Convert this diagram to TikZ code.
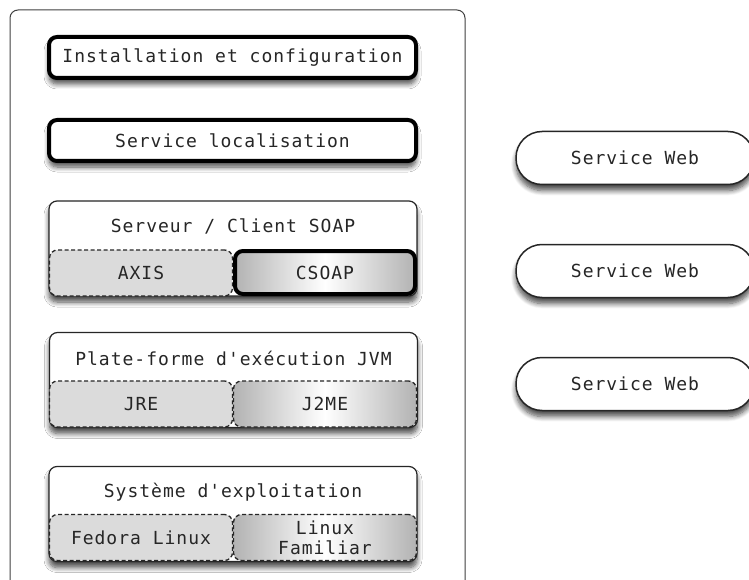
\documentclass[tikz,border=0pt]{standalone}
\usepackage{fontspec}
\setmonofont[LetterSpace=5.5]{DejaVu Sans Mono}
\usetikzlibrary{shadows,shadows.blur,positioning}

\begin{document}
\begin{tikzpicture}[x=1pt,y=-1pt]
                % define styles
\tikzset{txt/.style={font=\fontsize{18}{22}\selectfont\ttfamily, text=black!85},
         softshadow/.style={blur shadow={shadow xshift=0pt,
                       shadow yshift=-6pt,
                       shadow blur steps=8,
                       shadow blur radius=5pt,
                       shadow opacity=70}},
         thickbox/.style={txt,
                       draw=black,
                       line width=4pt,
                       rounded corners=8pt,
                       fill=white,
                       inner sep=0,
                       minimum width=367pt,
                       minimum height=41pt,
                       softshadow,
                       },
         group/.style={draw=black!85,
                       line width=1.2pt,
                       rounded corners=8pt,
                       fill=white,
                       inner sep=0,
                       minimum width=368pt,
                       minimum height=95pt,
                       softshadow,
                       },
         flatpart/.style={txt,
                       draw=black!85,
                       dashed,
                       dash pattern=on 4pt off 2.5pt,
                       line width=1.3pt,
                       rounded corners=8pt,
                       fill=gray!28,
                       inner sep=0,
                       minimum width=183pt,
                       minimum height=46pt,
                       align=center,
                       },
         shadedpart/.style={flatpart,
                       left color=gray!60,
                       right color=gray!60,
                       middle color=white,
                       },
         websvc/.style={txt,
                       draw=black!85,
                       line width=1.5pt,
                       rounded corners=26pt,
                       fill=white,
                       inner sep=0,
                       minimum width=238pt,
                       minimum height=53pt,
                       softshadow,
                       }
}

\useasboundingbox (0,0) rectangle (749,580);

% container
\draw[draw=black!75, line width=1pt, rounded corners=8pt, fill=white] (10,10) rectangle (465,620);

% top layers
\node[thickbox] (install) at (232.5,57.5)  {Installation et configuration};
\node[thickbox] (locsvc)  at (232.5,140.5) {Service localisation};

% SOAP layer
\node[group] (soapgrp) at (233,248.5) {};
\node[txt]   (soaptitle) at (233,226) {Serveur / Client SOAP};
\node[flatpart]   (axis)  at (141,273) {AXIS};
\node[shadedpart, draw=black, solid, line width=4pt, minimum width=180pt, minimum height=43pt]
                  (csoap) at (325,272.5) {CSOAP};

% JVM layer
\node[group] (jvmgrp) at (233.5,380) {};
\node[txt]   (jvmtitle) at (233.5,358) {Plate-forme d'exécution JVM};
\node[flatpart]   (jre)  at (141,404) {JRE};
\node[shadedpart] (j2me) at (325,404) {J2ME};

% OS layer
\node[group] (osgrp) at (233,514) {};
\node[txt]   (ostitle) at (233,492) {Système d'exploitation};
\node[flatpart]   (fedora)   at (141,537.5) {Fedora Linux};
\node[shadedpart] (familiar) at (325,537.5) {Linux\\[-2pt]Familiar};

% web services
\foreach \name/\ypos in {web1/158, web2/271, web3/384}
    \node[websvc] (\name) at (635,\ypos) {Service Web};

\end{tikzpicture}
\end{document}
